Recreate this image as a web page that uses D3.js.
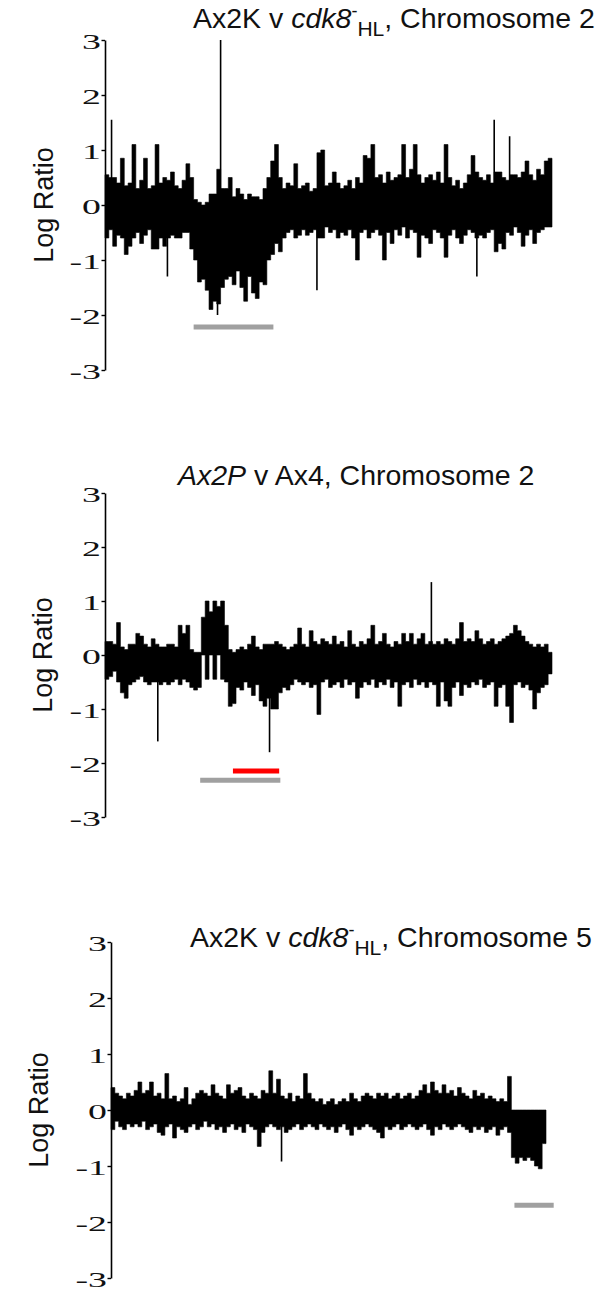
<!DOCTYPE html>
<html><head><meta charset="utf-8">
<script src="https://cdn.jsdelivr.net/npm/d3@7"></script>
<style>html,body{margin:0;padding:0;background:#fff}svg{display:block}</style>
</head><body>
<svg id="chart" width="600" height="1292"></svg>
<script>
// ---------- DATA ----------
const ticks = [-3, -2, -1, 0, 1, 2, 3];
const yLabel = "Log Ratio";

// Panel 1: Ax2K v cdk8-HL, Chromosome 2 (per-bin max / min log ratio)
const panel1Hi = [0.55,0.5,0.5,0.4,0.85,0.35,0.4,1.1,0.3,0.45, 0.85,0.3,0.35,1.1,0.4,0.5,0.45,0.6,0.35,0.3,
  0.45,0.75,0.5,0.1,0.05,0,0.05,0.2,0.2,0.65, 0.3,0.3,0.5,0.15,0.3,0.2,0.1,0.2,0.15,0.15,
  0.1,0.3,0.5,0.8,1.1,0.5,0.3,0.4,0.35,0.75, 0.3,0.35,0.4,0.25,0.3,0.95,1.0,0.35,0.4,0.6,
  0.4,0.3,0.35,0.45,0.3,0.5,0.4,0.9,0.85,1.1, 0.5,0.55,0.4,0.6,0.45,0.5,0.55,1.1,0.5,0.65,
  1.1,0.55,0.4,0.5,0.55,0.45,0.6,0.4,1.1,0.5, 0.35,0.45,0.3,0.4,0.55,0.9,0.6,0.5,0.45,0.55,
  0.4,0.6,0.6,0.5,0.45,0.55,0.55,0.5,0.6,0.8, 0.55,0.45,0.65,0.55,0.8,0.85];
const panel1Lo = [-0.6,-0.45,-0.75,-0.55,-0.6,-0.9,-0.75,-0.6,-0.5,-0.7, -0.55,-0.45,-0.8,-0.8,-0.6,-0.75,-0.6,-0.55,-0.6,-0.6,
  -0.5,-0.5,-0.8,-1.0,-1.4,-1.35,-1.55,-1.9,-1.75,-1.8, -1.5,-1.35,-1.3,-1.45,-1.2,-1.5,-1.75,-1.3,-1.6,-1.7,
  -1.4,-1.45,-1.0,-0.9,-0.7,-0.85,-0.6,-0.5,-0.45,-0.6, -0.55,-0.45,-0.55,-0.5,-0.45,-0.6,-0.6,-0.4,-0.5,-0.45,
  -0.6,-0.5,-0.55,-0.45,-0.6,-1.0,-0.5,-0.45,-0.6,-0.5, -0.45,-0.55,-1.0,-0.5,-0.7,-0.45,-0.55,-0.4,-0.6,-0.45,
  -0.5,-0.95,-0.55,-0.6,-0.7,-0.45,-0.5,-0.6,-0.95,-0.55, -0.45,-0.6,-0.7,-0.55,-0.45,-0.5,-0.6,-0.55,-0.6,-0.5,
  -0.45,-0.85,-0.7,-0.8,-0.5,-0.55,-0.4,-0.5,-0.75,-0.55, -0.45,-0.7,-0.5,-0.45,-0.4,-0.4];
const panel1SpikePos = [1.7, 16.2, 29.2, 30.0, 55.0, 96.5, 101.0, 105.0];
const panel1SpikeVal = [1.55, -1.3, -2.0, 3.0, -1.55, -1.3, 1.55, 1.25];
const panel1SegStart = [23];
const panel1SegEnd = [43.7];
const panel1SegVal = [-2.22];
const panel1SegColor = ["#a0a0a0"];

// Panel 2: Ax2P v Ax4, Chromosome 2
const panel2Hi = [0.25,0.25,0.2,0.6,0.15,0.1,0.2,0.2,0.4,0.35, 0.2,0.15,0.3,0.2,0.15,0.15,0.2,0.2,0.15,0.55,
  0.4,0.55,0.1,0.05,0.05,0.7,1.0,0.8,1.0,0.9, 1.0,0.55,0.1,0.05,0.1,0.15,0.1,0.2,0.35,0.15,
  0.1,0.2,0.2,0.2,0.25,0.2,0.15,0.1,0.15,0.2, 0.5,0.2,0.15,0.45,0.25,0.2,0.3,0.25,0.2,0.35,
  0.2,0.25,0.15,0.45,0.2,0.15,0.25,0.2,0.3,0.55, 0.2,0.25,0.4,0.2,0.15,0.25,0.2,0.4,0.25,0.4,
  0.2,0.3,0.4,0.2,0.25,0.2,0.25,0.2,0.3,0.25, 0.2,0.3,0.6,0.25,0.3,0.25,0.45,0.3,0.2,0.25,
  0.3,0.2,0.25,0.3,0.35,0.4,0.55,0.45,0.35,0.25, 0.2,0.15,0.2,0.15,0.2,0.05];
const panel2Lo = [-0.45,-0.4,-0.3,-0.5,-0.7,-0.8,-0.55,-0.5,-0.45,-0.4, -0.5,-0.55,-0.5,-0.5,-0.55,-0.5,-0.55,-0.5,-0.45,-0.55,
  -0.45,-0.5,-0.6,-0.65,-0.6,0,-0.45,0,-0.45,0, -0.45,-0.5,-0.95,-0.9,-0.6,-0.65,-0.5,-0.6,-0.75,-0.55,
  -0.85,-0.95,-0.8,-1.0,-1.0,-0.7,-0.6,-0.65,-0.55,-0.45, -0.5,-0.55,-0.5,-0.6,-0.55,-1.1,-0.5,-0.45,-0.6,-0.55,
  -0.5,-0.6,-0.45,-0.55,-0.5,-0.8,-0.6,-0.5,-0.55,-0.45, -0.6,-0.5,-0.55,-0.45,-0.6,-0.5,-0.95,-0.55,-0.5,-0.6,
  -0.45,-0.55,-0.5,-0.6,-0.5,-0.55,-0.95,-0.5,-0.85,-0.95, -0.6,-0.5,-0.75,-0.55,-0.6,-0.5,-0.55,-0.45,-0.6,-0.55,
  -0.5,-0.95,-0.6,-0.55,-0.95,-1.25,-0.55,-0.5,-0.6,-0.55, -0.65,-1.0,-0.7,-0.6,-0.55,-0.35];
const panel2SpikePos = [13.7, 42.7, 84.7];
const panel2SpikeVal = [-1.6, -1.8, 1.35];
const panel2SegStart = [33.2, 24.7];
const panel2SegEnd = [45.2, 45.5];
const panel2SegVal = [-2.15, -2.32];
const panel2SegColor = ["#ff0000", "#a0a0a0"];

// Panel 3: Ax2K v cdk8-HL, Chromosome 5
const panel3Hi = [0.4,0.3,0.25,0.2,0.3,0.25,0.35,0.5,0.3,0.35, 0.5,0.25,0.3,0.2,0.65,0.2,0.25,0.15,0.2,0.4,
  0.1,0.2,0.3,0.35,0.3,0.25,0.45,0.3,0.25,0.2, 0.45,0.3,0.35,0.4,0.25,0.2,0.3,0.25,0.2,0.35,
  0.3,0.7,0.3,0.55,0.25,0.2,0.3,0.15,0.25,0.2, 0.65,0.3,0.2,0.15,0.2,0.1,0.15,0.2,0.1,0.15,
  0.2,0.15,0.3,0.2,0.15,0.25,0.3,0.25,0.2,0.3, 0.25,0.3,0.2,0.25,0.3,0.2,0.25,0.3,0.2,0.25,
  0.35,0.45,0.3,0.5,0.35,0.3,0.45,0.3,0.35,0.25, 0.4,0.3,0.25,0.2,0.35,0.25,0.3,0.2,0.25,0.2,
  0.15,0.2,0.15,0.6,0,0,0,0,0,0, 0,0,0];
const panel3Lo = [-0.35,-0.2,-0.3,-0.35,-0.25,-0.3,-0.25,-0.3,-0.2,-0.35, -0.3,-0.25,-0.4,-0.45,-0.3,-0.25,-0.5,-0.3,-0.35,-0.4,
  -0.3,-0.25,-0.35,-0.3,-0.2,-0.3,-0.25,-0.35,-0.3,-0.4, -0.3,-0.25,-0.35,-0.3,-0.4,-0.25,-0.3,-0.35,-0.65,-0.4,
  -0.3,-0.25,-0.3,-0.35,-0.3,-0.4,-0.35,-0.3,-0.25,-0.35, -0.3,-0.25,-0.3,-0.35,-0.25,-0.3,-0.35,-0.3,-0.4,-0.3,
  -0.25,-0.35,-0.45,-0.3,-0.35,-0.3,-0.25,-0.3,-0.35,-0.4, -0.5,-0.3,-0.35,-0.3,-0.25,-0.35,-0.3,-0.25,-0.3,-0.35,
  -0.3,-0.25,-0.35,-0.45,-0.3,-0.35,-0.25,-0.3,-0.35,-0.3, -0.25,-0.3,-0.35,-0.4,-0.3,-0.35,-0.3,-0.4,-0.35,-0.3,
  -0.45,-0.35,-0.3,-0.4,-0.85,-0.95,-0.85,-0.9,-0.85,-0.9, -1.0,-1.05,-0.6];
const panel3SpikePos = [44.3];
const panel3SpikeVal = [-0.92];
const panel3SegStart = [104.8];
const panel3SegEnd = [115];
const panel3SegVal = [-1.7];
const panel3SegColor = ["#a0a0a0"];

// ---------- LAYOUT ----------
const svg = d3.select("#chart");
const SANS = "Arial, 'Liberation Sans', sans-serif";
const SERIF = "'Times New Roman', 'Liberation Serif', serif";

function titleChrom(g, x, y, chrom) {
  const t = g.append("text").attr("x", x).attr("y", y)
    .attr("font-family", SANS).attr("font-size", 28.5).attr("fill", "#111");
  t.append("tspan").text("Ax2K v ");
  t.append("tspan").attr("font-style", "italic").text("cdk8");
  t.append("tspan").attr("font-size", 18).attr("dy", -11).text("-");
  t.append("tspan").attr("font-size", 21).attr("dy", 19).text("HL");
  t.append("tspan").attr("dy", -8).text(", Chromosome " + chrom);
}
function titleAx2P(g, x, y) {
  const t = g.append("text").attr("x", x).attr("y", y)
    .attr("font-family", SANS).attr("font-size", 28.5).attr("fill", "#111");
  t.append("tspan").attr("font-style", "italic").text("Ax2P");
  t.append("tspan").text(" v Ax4, Chromosome 2");
}

function drawPanel(cfg) {
  const g = svg.append("g");
  const n = cfg.hi.length;
  const x = d3.scaleLinear().domain([0, cfg.nBins]).range([cfg.left, cfg.right]);
  const y = d3.scaleLinear().domain([-3, 3]).range([cfg.bottom, cfg.top]);

  // segments (gray / red bars)
  g.selectAll("line.seg").data(cfg.segVal).join("line")
    .attr("x1", (d, i) => x(cfg.segStart[i])).attr("x2", (d, i) => x(cfg.segEnd[i]))
    .attr("y1", d => y(d)).attr("y2", d => y(d))
    .attr("stroke", (d, i) => cfg.segColor[i]).attr("stroke-width", 5);

  // filled step band from per-bin minima to maxima (always including 0)
  const idx = d3.range(n + 1);
  const k = i => Math.min(i, n - 1);
  const area = d3.area()
    .x(i => x(i))
    .y0(i => y(Math.min(cfg.lo[k(i)], 0)))
    .y1(i => y(Math.max(cfg.hi[k(i)], 0)))
    .curve(d3.curveStepAfter);
  g.append("path").datum(idx).attr("d", area).attr("fill", "#000")
    .attr("stroke", "#000").attr("stroke-width", 0.6);

  // thin spikes
  g.selectAll("line.spike").data(cfg.spikeVal).join("line")
    .attr("x1", (d, i) => x(cfg.spikePos[i])).attr("x2", (d, i) => x(cfg.spikePos[i]))
    .attr("y1", y(0)).attr("y2", d => y(d))
    .attr("stroke", "#000").attr("stroke-width", 1.6);

  // axis
  const ax = g.append("g").attr("transform", `translate(${cfg.left},0)`)
    .call(d3.axisLeft(y).tickValues(ticks).tickSize(3.5).tickSizeOuter(0).tickFormat(d => String(d)));
  ax.select(".domain").attr("stroke", "#000").attr("stroke-width", 1.6);
  ax.selectAll(".tick line").attr("stroke", "#000").attr("stroke-width", 1.4);
  ax.selectAll(".tick text")
    .attr("x", 0).attr("dy", "0.42em")
    .attr("transform", "translate(-4,0) scale(1.8,1)")
    .attr("font-family", SERIF).attr("font-size", 21).attr("fill", "#111")
    .attr("text-anchor", "end");

  // y label
  g.append("text")
    .attr("transform", `translate(${cfg.labelX},${y(0)}) rotate(-90)`)
    .attr("text-anchor", "middle").attr("dy", "0.35em")
    .attr("font-family", SANS).attr("font-size", 27).attr("fill", "#111")
    .text(yLabel);

  cfg.title(g);
}

drawPanel({ hi: panel1Hi, lo: panel1Lo, nBins: panel1Hi.length,
  spikePos: panel1SpikePos, spikeVal: panel1SpikeVal,
  segStart: panel1SegStart, segEnd: panel1SegEnd, segVal: panel1SegVal, segColor: panel1SegColor,
  left: 105, right: 552, top: 40, bottom: 370, labelX: 44,
  title: g => titleChrom(g, 193, 28, "2") });

drawPanel({ hi: panel2Hi, lo: panel2Lo, nBins: panel2Hi.length,
  spikePos: panel2SpikePos, spikeVal: panel2SpikeVal,
  segStart: panel2SegStart, segEnd: panel2SegEnd, segVal: panel2SegVal, segColor: panel2SegColor,
  left: 105, right: 552, top: 493, bottom: 817, labelX: 43,
  title: g => titleAx2P(g, 178, 485) });

drawPanel({ hi: panel3Hi, lo: panel3Lo, nBins: panel3Hi.length,
  spikePos: panel3SpikePos, spikeVal: panel3SpikeVal,
  segStart: panel3SegStart, segEnd: panel3SegEnd, segVal: panel3SegVal, segColor: panel3SegColor,
  left: 111, right: 546, top: 942, bottom: 1278, labelX: 39,
  title: g => titleChrom(g, 190, 947, "5") });
</script>
</body></html>
